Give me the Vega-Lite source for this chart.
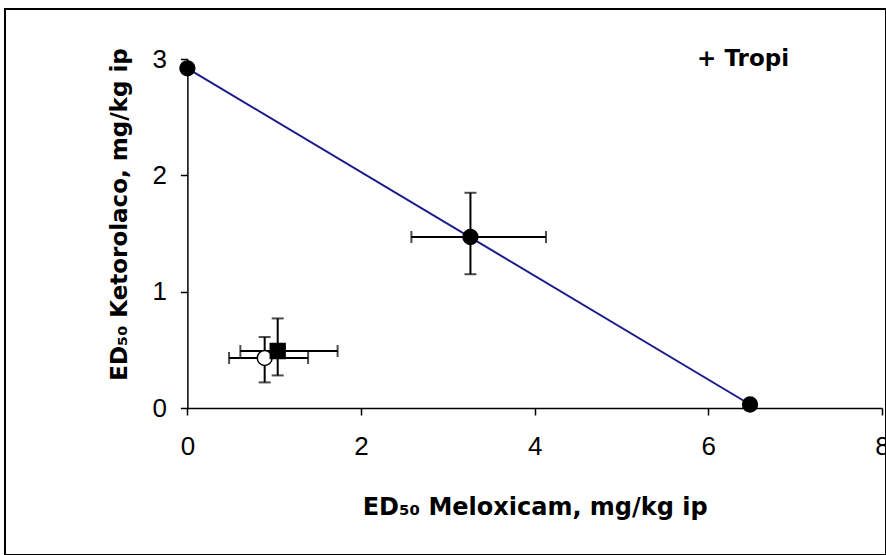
{
  "$schema": "https://vega.github.io/schema/vega-lite/v6.json",
  "width": 881,
  "height": 546,
  "autosize": {"type": "none"},
  "padding": {"left": 5, "top": 9, "right": 0, "bottom": 0},
  "background": "white",
  "config": {
    "view": {"stroke": "black", "strokeWidth": 2},
    "font": "Liberation Sans",
    "axis": {
      "grid": false,
      "domainColor": "black",
      "domainWidth": 1.5,
      "tickColor": "black",
      "tickWidth": 1.5,
      "tickSize": 7,
      "labelColor": "black",
      "labelFont": "Liberation Sans",
      "labelFontSize": 26,
      "labelFontWeight": "normal",
      "labelFlush": false,
      "format": "d",
      "titleColor": "black",
      "titleFont": "DejaVu Sans",
      "titleFontSize": 24,
      "titleFontWeight": "bold"
    }
  },
  "datasets": {
    "puntos": [
      {"grupo": "isobola", "x": 0, "y": 2.92},
      {"grupo": "aditiva", "x": 3.26, "y": 1.47, "xlo": 2.58, "xhi": 4.13, "ylo": 1.15, "yhi": 1.85},
      {"grupo": "isobola", "x": 6.48, "y": 0.03},
      {"grupo": "experimental", "x": 0.89, "y": 0.43, "xlo": 0.48, "xhi": 1.39, "ylo": 0.22, "yhi": 0.61},
      {"grupo": "tropi", "x": 1.04, "y": 0.49, "xlo": 0.61, "xhi": 1.73, "ylo": 0.28, "yhi": 0.77}
    ]
  },
  "data": {"name": "puntos"},
  "layer": [
    {
      "transform": [{"filter": "datum.grupo === 'isobola'"}],
      "mark": {"type": "line", "color": "#1a1a8c", "strokeWidth": 2},
      "encoding": {
        "x": {"field": "x", "type": "quantitative", "title": "ED₅₀ Meloxicam, mg/kg ip",
              "scale": {"domain": [0, 8], "range": [182.4, 877], "nice": false, "zero": false},
              "axis": {"values": [0, 2, 4, 6, 8], "offset": -147, "labelPadding": 18, "titlePadding": 36}},
        "y": {"field": "y", "type": "quantitative", "title": "ED₅₀ Ketorolaco, mg/kg ip",
              "scale": {"domain": [0, 3], "range": [399, 50], "nice": false, "zero": false},
              "axis": {"values": [0, 1, 2, 3], "offset": -182.4, "labelPadding": 14, "titlePadding": 20, "titleY": 205, "titleFontSize": 23}}
      }
    },
    {
      "transform": [{"filter": "datum.xlo != null"}],
      "mark": {"type": "errorbar", "ticks": {"size": 12, "color": "black", "thickness": 2}, "rule": {"strokeWidth": 2, "color": "black"}, "color": "black"},
      "encoding": {
        "x": {"field": "xlo", "type": "quantitative", "title": "ED₅₀ Meloxicam, mg/kg ip"},
        "x2": {"field": "xhi"},
        "y": {"field": "y", "type": "quantitative", "title": "ED₅₀ Ketorolaco, mg/kg ip"}
      }
    },
    {
      "transform": [{"filter": "datum.ylo != null"}],
      "mark": {"type": "errorbar", "ticks": {"size": 12, "color": "black", "thickness": 2}, "rule": {"strokeWidth": 2, "color": "black"}, "color": "black"},
      "encoding": {
        "y": {"field": "ylo", "type": "quantitative", "title": "ED₅₀ Ketorolaco, mg/kg ip"},
        "y2": {"field": "yhi"},
        "x": {"field": "x", "type": "quantitative", "title": "ED₅₀ Meloxicam, mg/kg ip"}
      }
    },
    {
      "mark": {"type": "point", "stroke": "black", "strokeWidth": 1.5, "opacity": 1},
      "encoding": {
        "x": {"field": "x", "type": "quantitative", "title": "ED₅₀ Meloxicam, mg/kg ip"},
        "y": {"field": "y", "type": "quantitative", "title": "ED₅₀ Ketorolaco, mg/kg ip"},
        "shape": {"field": "grupo", "type": "nominal",
                  "scale": {"domain": ["isobola", "aditiva", "experimental", "tropi"], "range": ["circle", "circle", "circle", "square"]},
                  "legend": null},
        "fill": {"field": "grupo", "type": "nominal",
                 "scale": {"domain": ["isobola", "aditiva", "experimental", "tropi"], "range": ["black", "black", "white", "black"]},
                 "legend": null},
        "size": {"value": 220}
      }
    },
    {
      "data": {"values": [{"etiqueta": "+ Tropi"}]},
      "mark": {"type": "text", "font": "DejaVu Sans", "fontWeight": "bold", "fontSize": 23, "color": "black", "align": "center", "baseline": "middle"},
      "encoding": {
        "text": {"field": "etiqueta"},
        "x": {"datum": 6.4, "type": "quantitative"},
        "y": {"datum": 3.0, "type": "quantitative"}
      }
    }
  ]
}
